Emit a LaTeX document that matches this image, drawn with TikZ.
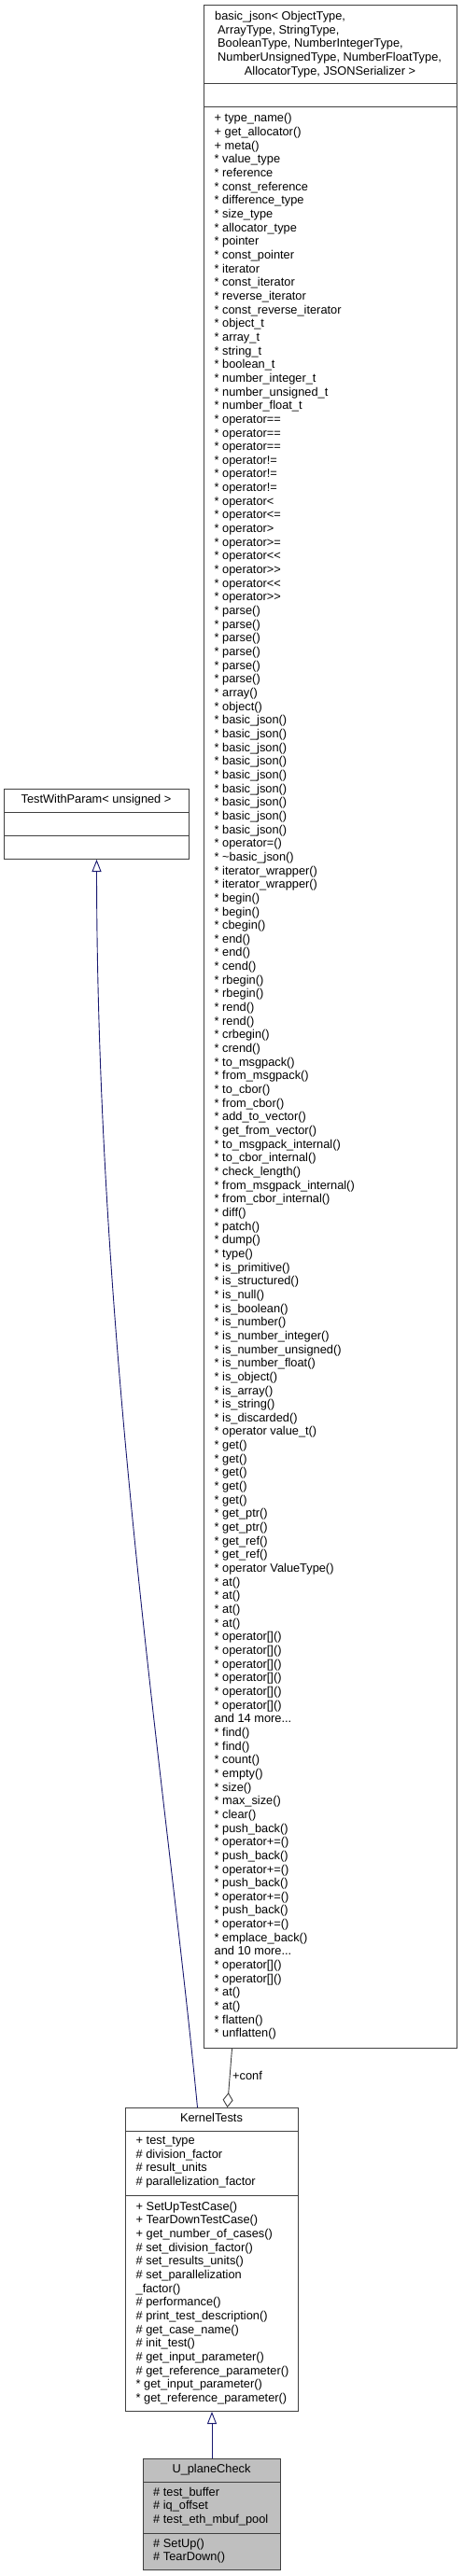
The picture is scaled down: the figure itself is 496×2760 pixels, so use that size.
\documentclass[tikz,border=0pt]{standalone}
\usepackage{fontspec}
\setmainfont{Liberation Sans}
\usetikzlibrary{arrows.meta,calc}
\definecolor{edgegray}{HTML}{404040}
\definecolor{navyline}{HTML}{191970}
\definecolor{curfill}{HTML}{BFBFBF}
\newcommand{\mydots}{...}
\begin{document}
\begin{tikzpicture}[x=1pt,y=-1pt,
  box/.style={draw=edgegray, line width=1pt, inner sep=0pt, anchor=north west},
  sep/.style={draw=edgegray, line width=1pt},
  mem/.style={anchor=west, inner sep=0pt, font=\fontsize{12.8}{14.66}\selectfont, text height=9pt, text depth=2.6pt},
  ttl/.style={anchor=center, inner sep=0pt, font=\fontsize{12.8}{14.66}\selectfont, text height=9pt, text depth=2.6pt},
  inh/.style={draw=navyline, line width=0.9pt, -{Triangle[open, length=13pt, width=10pt]}},
  agg/.style={draw=edgegray, line width=0.9pt, -{Diamond[open, length=16pt, width=11pt]}},
]
\useasboundingbox (0,0) rectangle (496,2760);
\fill[white] (0,0) rectangle (496,2760);

% ---------- basic_json box ----------
\node[box, minimum width=271pt, minimum height=2189pt] (bj) at (218,5) {};
\draw[sep] (218,89) -- (489,89);
\draw[sep] (218,114) -- (489,114);
\node[mem] (bjh1) at (230,18.3) {basic\_json< ObjectType,};
\node[mem] (bjh2) at (233,33) {ArrayType, StringType,};
\node[mem] (bjh3) at (233,47.7) {BooleanType, NumberIntegerType,};
\node[mem] (bjh4) at (233,62.3) {NumberUnsignedType, NumberFloatType,};
\node[ttl] (bjh5) at (353.5,77.5) {AllocatorType, JSONSerializer >};
\foreach \t [count=\i from 0] in {
{+ type\_name()},{+ get\_allocator()},{+ meta()},{* value\_type},{* reference},
{* const\_reference},{* difference\_type},{* size\_type},{* allocator\_type},{* pointer},
{* const\_pointer},{* iterator},{* const\_iterator},{* reverse\_iterator},{* const\_reverse\_iterator},
{* object\_t},{* array\_t},{* string\_t},{* boolean\_t},{* number\_integer\_t},
{* number\_unsigned\_t},{* number\_float\_t},{* operator==},{* operator==},{* operator==},
{* operator!=},{* operator!=},{* operator!=},{* operator<},{* operator<=},
{* operator>},{* operator>=},{* operator<{}<},{* operator>{}>},{* operator<{}<},
{* operator>{}>},{* parse()},{* parse()},{* parse()},{* parse()},
{* parse()},{* parse()},{* array()},{* object()},{* basic\_json()},
{* basic\_json()},{* basic\_json()},{* basic\_json()},{* basic\_json()},{* basic\_json()},
{* basic\_json()},{* basic\_json()},{* basic\_json()},{* operator=()},{* \textasciitilde basic\_json()},
{* iterator\_wrapper()},{* iterator\_wrapper()},{* begin()},{* begin()},{* cbegin()},
{* end()},{* end()},{* cend()},{* rbegin()},{* rbegin()},
{* rend()},{* rend()},{* crbegin()},{* crend()},{* to\_msgpack()},
{* from\_msgpack()},{* to\_cbor()},{* from\_cbor()},{* add\_to\_vector()},{* get\_from\_vector()},
{* to\_msgpack\_internal()},{* to\_cbor\_internal()},{* check\_length()},{* from\_msgpack\_internal()},{* from\_cbor\_internal()},
{* diff()},{* patch()},{* dump()},{* type()},{* is\_primitive()},
{* is\_structured()},{* is\_null()},{* is\_boolean()},{* is\_number()},{* is\_number\_integer()},
{* is\_number\_unsigned()},{* is\_number\_float()},{* is\_object()},{* is\_array()},{* is\_string()},
{* is\_discarded()},{* operator value\_t()},{* get()},{* get()},{* get()},
{* get()},{* get()},{* get\_ptr()},{* get\_ptr()},{* get\_ref()},
{* get\_ref()},{* operator ValueType()},{* at()},{* at()},{* at()},
{* at()},{* operator[]()},{* operator[]()},{* operator[]()},{* operator[]()},
{* operator[]()},{* operator[]()},{and 14 more\mydots},{* find()},{* find()},
{* count()},{* empty()},{* size()},{* max\_size()},{* clear()},
{* push\_back()},{* operator+=()},{* push\_back()},{* operator+=()},{* push\_back()},
{* operator+=()},{* push\_back()},{* operator+=()},{* emplace\_back()},{and 10 more\mydots},
{* operator[]()},{* operator[]()},{* at()},{* at()},{* flatten()},
{* unflatten()}}
{ \node[mem] (bjm\i) at (229.5,{127.7+\i*14.657}) {\t}; }

% ---------- TestWithParam box ----------
\node[box, minimum width=198pt, minimum height=75pt] (twp) at (4,845) {};
\draw[sep] (4,870) -- (202,870);
\draw[sep] (4,895) -- (202,895);
\node[ttl] (twpt) at (103,857.5) {TestWithParam< unsigned >};

% ---------- KernelTests box ----------
\node[box, minimum width=185pt, minimum height=325pt] (kt) at (134,2258) {};
\draw[sep] (134,2283) -- (319,2283);
\draw[sep] (134,2352) -- (319,2352);
\node[ttl] (ktt) at (226.5,2270.5) {KernelTests};
\foreach \t [count=\i from 0] in {
{+ test\_type},{\# division\_factor},{\# result\_units},{\# parallelization\_factor}}
{ \node[mem] (kta\i) at (145.5,{2294.3+\i*14.66}) {\t}; }
\foreach \t [count=\i from 0] in {
{+ SetUpTestCase()},{+ TearDownTestCase()},{+ get\_number\_of\_cases()},{\# set\_division\_factor()},
{\# set\_results\_units()},{\# set\_parallelization},{\_factor()},{\# performance()},
{\# print\_test\_description()},{\# get\_case\_name()},{\# init\_test()},{\# get\_input\_parameter()},
{\# get\_reference\_parameter()},{* get\_input\_parameter()},{* get\_reference\_parameter()}}
{ \node[mem] (ktm\i) at (145.5,{2365+\i*14.66}) {\t}; }

% ---------- U_planeCheck box ----------
\node[box, fill=curfill, minimum width=147pt, minimum height=119pt] (up) at (153,2634) {};
\draw[sep] (153,2659) -- (300,2659);
\draw[sep] (153,2714) -- (300,2714);
\node[ttl] (upt) at (226.5,2646.5) {U\_planeCheck};
\foreach \t [count=\i from 0] in {{\# test\_buffer},{\# iq\_offset},{\# test\_eth\_mbuf\_pool}}
{ \node[mem] (upa\i) at (164,{2671+\i*14.66}) {\t}; }
\foreach \t [count=\i from 0] in {{\# SetUp()},{\# TearDown()}}
{ \node[mem] (upm\i) at (164,{2726+\i*14.66}) {\t}; }

% ---------- connectors ----------
\draw[inh] ([xshift=-15.5pt]kt.north) .. controls (180,1930) and (104,1450) .. (twp.south);
\draw[agg] ([xshift=-105.5pt]bj.south) -- ([xshift=16.5pt]kt.north);
\node[mem] (conf) at (249,2225) {+conf};
\draw[inh] (up.north) -- (kt.south);
\end{tikzpicture}
\end{document}
